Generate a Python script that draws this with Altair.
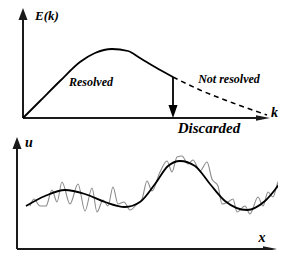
import altair as alt
import pandas as pd

# ---- top panel: energy spectrum E(k) (schematic units) ----
k_resolved = [0, 1.7, 3.7, 5.7, 7.2, 8.9, 10.5, 11.7, 13.2, 15.0]
E_resolved = [0, 1.7, 3.7, 5.6, 6.5, 6.9, 6.7, 6.0, 5.1, 4.1]
k_unresolved = [15.0, 17.7, 21.0, 24.4]
E_unresolved = [4.1, 2.8, 1.5, 0.3]
k_cut = 15.0
E_cut_top = 4.1

# ---- bottom panel: velocity signal u(x) ----
x_smooth = [0.9, 2.8, 4.8, 6.8, 8.8, 10.8, 12.3, 13.8, 15.1, 16.3, 17.8, 19.3, 20.8, 23.0, 24.8, 26.8]
u_smooth = [4.3, 5.3, 5.9, 5.5, 4.7, 4.2, 4.7, 6.5, 8.3, 8.8, 8.3, 6.5, 4.8, 3.9, 4.8, 7.3]
x_noisy = [1.3, 1.7, 2.3, 2.9, 3.5, 4.0, 4.5, 5.3, 6.1, 6.8, 7.5, 8.0, 8.6, 9.1, 9.6, 10.1,
           10.7, 11.3, 12.0, 12.5, 13.0, 13.5, 14.3, 15.0, 15.5, 16.0, 16.5, 17.1, 17.6, 18.3,
           19.0, 19.5, 20.1, 20.5, 21.1, 21.6, 22.0, 22.8, 23.3, 24.1, 24.6, 25.1, 25.6, 26.1, 26.9]
u_noisy = [4.3, 5.0, 4.3, 4.3, 5.9, 4.7, 6.7, 4.5, 6.5, 3.8, 6.1, 3.7, 4.9, 4.3, 6.2, 4.5,
           4.7, 3.9, 4.5, 5.0, 6.8, 5.8, 7.7, 8.8, 7.7, 9.2, 9.3, 8.5, 8.9, 7.8,
           8.7, 7.0, 6.3, 4.5, 4.7, 5.0, 3.7, 4.3, 3.5, 5.2, 4.3, 5.7, 5.2, 6.7, 7.2]

FONT = "Liberation Serif"
AX = "#1a1a1a"
UP = "M-0.75,1 L0,-1 L0.75,1 Z"
RIGHT = "M-1,-0.4 L1,0 L-1,0.4 Z"
DOWN = "M-0.7,-1 L0.7,-1 L0,1 Z"

W = 270


def panel(xs, ys, height, layers_fn):
    X = lambda f: alt.X(f, type="quantitative", scale=xs, axis=None)
    Y = lambda f: alt.Y(f, type="quantitative", scale=ys, axis=None)
    return alt.layer(*layers_fn(X, Y)).properties(width=W, height=height)


# top panel
top_xs = alt.Scale(domain=[-1.5, 25.5], nice=False, zero=False)
top_ys = alt.Scale(domain=[-1.7, 11], nice=False, zero=False)

res_df = pd.DataFrame({"k": k_resolved, "E": E_resolved})
unres_df = pd.DataFrame({"k": k_unresolved, "E": E_unresolved})
top_axes = pd.DataFrame({"x": [0, 0], "y": [0, 0], "x2": [0, 23.6], "y2": [10.2, 0]})
top_heads = pd.DataFrame({"x": [0, 24.0], "y": [10.4, 0], "s": [UP, RIGHT], "z": [144, 196]})
cut_df = pd.DataFrame({"x": [k_cut], "y": [E_cut_top], "y2": [1.0], "yh": [0.65]})
top_text = pd.DataFrame({
    "x": [1.2, 6.8, 20.6, 18.6, 24.8],
    "y": [9.8, 3.6, 3.9, -1.0, 0.5],
    "t": ["E(k)", "Resolved", "Not resolved", "Discarded", "k"],
    "sz": [13, 12, 12, 15, 14],
    "al": ["left", "center", "center", "center", "left"],
    "bl": ["alphabetic", "middle", "middle", "middle", "middle"],
    "cl": [False, True, True, True, True],
})


def top_layers(X, Y):
    base_axes = alt.Chart(top_axes).mark_rule(color=AX, strokeWidth=2, clip=True).encode(
        x=X("x"), y=Y("y"), x2="x2", y2="y2")
    heads = [alt.Chart(top_heads.iloc[[i]]).mark_point(
        shape=top_heads.s[i], size=int(top_heads.z[i]), filled=True, opacity=1, color=AX,
        clip=True).encode(x=X("x"), y=Y("y")) for i in range(2)]
    res = alt.Chart(res_df).mark_line(color="black", strokeWidth=1.8, interpolate="monotone",
                                      clip=True).encode(x=X("k"), y=Y("E"))
    unres = alt.Chart(unres_df).mark_line(color="black", strokeWidth=1.5, strokeDash=[5, 4],
                                          interpolate="monotone", clip=True).encode(
        x=X("k"), y=Y("E"))
    cut = alt.Chart(cut_df).mark_rule(color="black", strokeWidth=1.8, clip=True).encode(
        x=X("x"), y=Y("y"), y2="y2")
    cut_head = alt.Chart(cut_df).mark_point(shape=DOWN, size=169, filled=True, opacity=1,
                                            color="black", clip=True).encode(
        x=X("x"), y=Y("yh"))
    texts = []
    for i in range(len(top_text)):
        row = top_text.iloc[i]
        d = top_text.iloc[[i]][["x", "y", "t"]]
        texts.append(alt.Chart(d).mark_text(
            font=FONT, fontStyle="italic", fontWeight="bold", fontSize=int(row["sz"]),
            align=str(row["al"]), baseline=str(row["bl"]), color="black",
            clip=bool(row["cl"])).encode(x=X("x"), y=Y("y"), text="t:N"))
    return [base_axes, *heads, res, unres, cut, cut_head, *texts]


# bottom panel
bot_xs = alt.Scale(domain=[-0.9, 26.1], nice=False, zero=False)
bot_ys = alt.Scale(domain=[-0.1, 11.4], nice=False, zero=False)

smooth_df = pd.DataFrame({"x": x_smooth, "u": u_smooth})
noisy_df = pd.DataFrame({"x": x_noisy, "u": u_noisy})
bot_axes = pd.DataFrame({"x": [0, 0], "y": [0, 0], "x2": [0, 25.0], "y2": [10.4, 0]})
bot_heads = pd.DataFrame({"x": [0, 25.3], "y": [10.6, 0], "s": [UP, RIGHT], "z": [144, 196]})
bot_text = pd.DataFrame({"x": [0.8, 24.5], "y": [10.6, 1.1], "t": ["u", "x"],
                         "al": ["left", "center"]})


def bot_layers(X, Y):
    base_axes = alt.Chart(bot_axes).mark_rule(color=AX, strokeWidth=2, clip=True).encode(
        x=X("x"), y=Y("y"), x2="x2", y2="y2")
    heads = [alt.Chart(bot_heads.iloc[[i]]).mark_point(
        shape=bot_heads.s[i], size=int(bot_heads.z[i]), filled=True, opacity=1, color=AX,
        clip=True).encode(x=X("x"), y=Y("y")) for i in range(2)]
    noisy = alt.Chart(noisy_df).mark_line(color="#8a8a8a", strokeWidth=1.1,
                                          interpolate="monotone", clip=True).encode(
        x=X("x"), y=Y("u"))
    smooth = alt.Chart(smooth_df).mark_line(color="black", strokeWidth=1.8,
                                            interpolate="monotone", clip=True).encode(
        x=X("x"), y=Y("u"))
    texts = [alt.Chart(bot_text[bot_text.al == al]).mark_text(
        font=FONT, fontStyle="italic", fontWeight="bold", fontSize=14,
        align=al, baseline="middle", color="black", clip=True).encode(
        x=X("x"), y=Y("y"), text="t:N")
        for al in ["left", "center"]]
    return [base_axes, *heads, noisy, smooth, *texts]


top = panel(top_xs, top_ys, 127, top_layers)
bottom = panel(bot_xs, bot_ys, 115, bot_layers)

chart = alt.vconcat(top, bottom, spacing=0).properties(
    padding=0
).configure_view(stroke=None).configure_concat(spacing=0)

chart.save("out.html", embed_options={"renderer": "svg", "actions": False})
